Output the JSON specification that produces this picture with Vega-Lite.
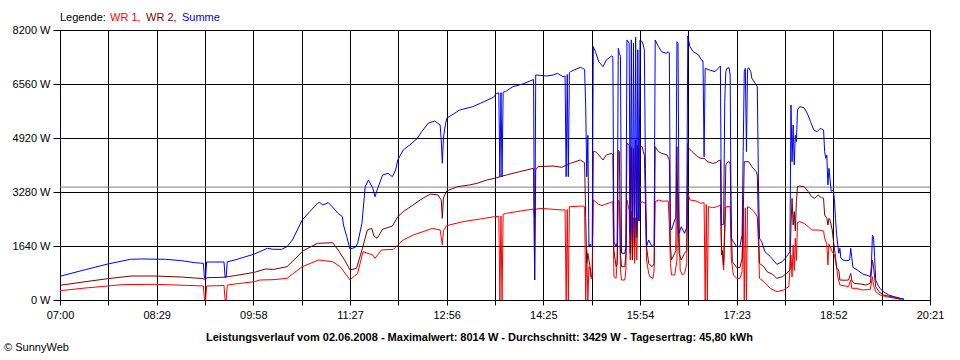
{
"$schema": "https://vega.github.io/schema/vega-lite/v6.json",
"width": 870, "height": 270,
"autosize": {"type": "none"},
"padding": {"left": 60, "top": 30, "right": 30, "bottom": 60},
"background": "white",
"config": {
  "font": "Liberation Sans",
  "view": {"stroke": "black", "strokeWidth": 1},
  "axis": {"gridColor": "black", "gridOpacity": 1, "gridWidth": 1, "domainColor": "black", "tickColor": "black", "labelColor": "black", "labelFontSize": 11, "labelFont": "Liberation Sans", "labelFlush": false, "labelOverlap": false, "tickSize": 6}
},
"title": {"text": "© SunnyWeb", "orient": "bottom", "anchor": "start", "frame": "bounds", "fontSize": 11, "fontWeight": "normal", "font": "Liberation Sans", "color": "black", "offset": 0, "dx": -8},
"layer": [
{
  "data": {"values": [{"w": 3429}]},
  "mark": {"type": "rule", "color": "#808080", "strokeWidth": 1},
  "encoding": {"y": {"field": "w", "type": "quantitative", "title": null}}
},
{
  "data": {"format": {"parse": {"t": "date:'%H:%M'"}}, "values": [
{"t":"07:00","s":"WR 1","w":283},{"t":"07:22","s":"WR 1","w":360},{"t":"07:44","s":"WR 1","w":425},{"t":"07:57","s":"WR 1","w":466},{"t":"08:27","s":"WR 1","w":476},{"t":"08:55","s":"WR 1","w":446},{"t":"09:12","s":"WR 1","w":425},{"t":"09:13","s":"WR 1","w":0},{"t":"09:14","s":"WR 1","w":0},{"t":"09:15","s":"WR 1","w":425},{"t":"09:31","s":"WR 1","w":440},{"t":"09:32","s":"WR 1","w":0},{"t":"09:33","s":"WR 1","w":0},{"t":"09:34","s":"WR 1","w":450},{"t":"09:41","s":"WR 1","w":486},{"t":"09:59","s":"WR 1","w":557},{"t":"10:04","s":"WR 1","w":607},{"t":"10:17","s":"WR 1","w":618},{"t":"10:29","s":"WR 1","w":659},{"t":"10:43","s":"WR 1","w":1012},{"t":"10:58","s":"WR 1","w":1215},{"t":"11:11","s":"WR 1","w":1164},{"t":"11:18","s":"WR 1","w":1012},{"t":"11:27","s":"WR 1","w":607},{"t":"11:34","s":"WR 1","w":810},{"t":"11:39","s":"WR 1","w":1468},{"t":"11:48","s":"WR 1","w":1367},{"t":"11:50","s":"WR 1","w":1265},{"t":"11:56","s":"WR 1","w":1519},{"t":"12:07","s":"WR 1","w":1539},{"t":"12:11","s":"WR 1","w":1671},{"t":"12:16","s":"WR 1","w":1822},{"t":"12:25","s":"WR 1","w":1974},{"t":"12:34","s":"WR 1","w":2075},{"t":"12:43","s":"WR 1","w":2177},{"t":"12:50","s":"WR 1","w":2126},{"t":"12:52","s":"WR 1","w":1671},{"t":"12:53","s":"WR 1","w":2100},{"t":"12:56","s":"WR 1","w":2257},{"t":"13:11","s":"WR 1","w":2379},{"t":"13:27","s":"WR 1","w":2460},{"t":"13:40","s":"WR 1","w":2531},{"t":"13:44","s":"WR 1","w":2540},{"t":"13:45","s":"WR 1","w":0},{"t":"13:46","s":"WR 1","w":2550},{"t":"13:47","s":"WR 1","w":0},{"t":"13:48","s":"WR 1","w":2600},{"t":"13:51","s":"WR 1","w":2632},{"t":"14:06","s":"WR 1","w":2713},{"t":"14:16","s":"WR 1","w":2764},{"t":"14:17","s":"WR 1","w":2500},{"t":"14:18","s":"WR 1","w":2753},{"t":"14:22","s":"WR 1","w":2784},{"t":"14:43","s":"WR 1","w":2733},{"t":"14:45","s":"WR 1","w":2740},{"t":"14:46","s":"WR 1","w":0},{"t":"14:47","s":"WR 1","w":2750},{"t":"14:48","s":"WR 1","w":0},{"t":"14:49","s":"WR 1","w":2834},{"t":"15:01","s":"WR 1","w":2855},{"t":"15:03","s":"WR 1","w":2834},{"t":"15:04","s":"WR 1","w":0},{"t":"15:05","s":"WR 1","w":1519},{"t":"15:06","s":"WR 1","w":0},{"t":"15:07","s":"WR 1","w":1012},{"t":"15:08","s":"WR 1","w":962},{"t":"15:09","s":"WR 1","w":658},{"t":"15:10","s":"WR 1","w":658},{"t":"15:11","s":"WR 1","w":3037},{"t":"15:13","s":"WR 1","w":2986},{"t":"15:16","s":"WR 1","w":2905},{"t":"15:19","s":"WR 1","w":2865},{"t":"15:22","s":"WR 1","w":2905},{"t":"15:27","s":"WR 1","w":2966},{"t":"15:29","s":"WR 1","w":2986},{"t":"15:30","s":"WR 1","w":709},{"t":"15:32","s":"WR 1","w":658},{"t":"15:33","s":"WR 1","w":1215},{"t":"15:34","s":"WR 1","w":3037},{"t":"15:35","s":"WR 1","w":3000},{"t":"15:36","s":"WR 1","w":911},{"t":"15:37","s":"WR 1","w":607},{"t":"15:40","s":"WR 1","w":607},{"t":"15:41","s":"WR 1","w":911},{"t":"15:42","s":"WR 1","w":3037},{"t":"15:44","s":"WR 1","w":2733},{"t":"15:45","s":"WR 1","w":1215},{"t":"15:46","s":"WR 1","w":2700},{"t":"15:47","s":"WR 1","w":1215},{"t":"15:48","s":"WR 1","w":2500},{"t":"15:49","s":"WR 1","w":1114},{"t":"15:50","s":"WR 1","w":2500},{"t":"15:51","s":"WR 1","w":1215},{"t":"15:52","s":"WR 1","w":2600},{"t":"15:53","s":"WR 1","w":2936},{"t":"15:56","s":"WR 1","w":2986},{"t":"15:59","s":"WR 1","w":2936},{"t":"16:00","s":"WR 1","w":1215},{"t":"16:02","s":"WR 1","w":810},{"t":"16:03","s":"WR 1","w":709},{"t":"16:06","s":"WR 1","w":658},{"t":"16:07","s":"WR 1","w":911},{"t":"16:08","s":"WR 1","w":2986},{"t":"16:11","s":"WR 1","w":3037},{"t":"16:15","s":"WR 1","w":3000},{"t":"16:20","s":"WR 1","w":3007},{"t":"16:21","s":"WR 1","w":2300},{"t":"16:22","s":"WR 1","w":1114},{"t":"16:23","s":"WR 1","w":760},{"t":"16:26","s":"WR 1","w":760},{"t":"16:28","s":"WR 1","w":1215},{"t":"16:29","s":"WR 1","w":3240},{"t":"16:30","s":"WR 1","w":2200},{"t":"16:31","s":"WR 1","w":911},{"t":"16:33","s":"WR 1","w":760},{"t":"16:35","s":"WR 1","w":810},{"t":"16:37","s":"WR 1","w":1100},{"t":"16:38","s":"WR 1","w":3240},{"t":"16:40","s":"WR 1","w":3037},{"t":"16:45","s":"WR 1","w":3017},{"t":"16:50","s":"WR 1","w":2936},{"t":"16:53","s":"WR 1","w":2956},{"t":"16:54","s":"WR 1","w":0},{"t":"16:55","s":"WR 1","w":2900},{"t":"16:56","s":"WR 1","w":0},{"t":"16:57","s":"WR 1","w":2834},{"t":"17:01","s":"WR 1","w":2804},{"t":"17:05","s":"WR 1","w":2834},{"t":"17:08","s":"WR 1","w":2885},{"t":"17:09","s":"WR 1","w":1671},{"t":"17:10","s":"WR 1","w":1266},{"t":"17:11","s":"WR 1","w":911},{"t":"17:12","s":"WR 1","w":2000},{"t":"17:13","s":"WR 1","w":2834},{"t":"17:17","s":"WR 1","w":2834},{"t":"17:18","s":"WR 1","w":1266},{"t":"17:20","s":"WR 1","w":760},{"t":"17:23","s":"WR 1","w":658},{"t":"17:26","s":"WR 1","w":658},{"t":"17:28","s":"WR 1","w":861},{"t":"17:29","s":"WR 1","w":2784},{"t":"17:30","s":"WR 1","w":0},{"t":"17:31","s":"WR 1","w":2800},{"t":"17:32","s":"WR 1","w":0},{"t":"17:33","s":"WR 1","w":2834},{"t":"17:36","s":"WR 1","w":2784},{"t":"17:39","s":"WR 1","w":2683},{"t":"17:42","s":"WR 1","w":2531},{"t":"17:43","s":"WR 1","w":1772},{"t":"17:44","s":"WR 1","w":658},{"t":"17:48","s":"WR 1","w":557},{"t":"17:54","s":"WR 1","w":354},{"t":"18:00","s":"WR 1","w":253},{"t":"18:06","s":"WR 1","w":304},{"t":"18:11","s":"WR 1","w":405},{"t":"18:13","s":"WR 1","w":1367},{"t":"18:14","s":"WR 1","w":700},{"t":"18:15","s":"WR 1","w":1671},{"t":"18:16","s":"WR 1","w":900},{"t":"18:17","s":"WR 1","w":1873},{"t":"18:18","s":"WR 1","w":1200},{"t":"18:19","s":"WR 1","w":2349},{"t":"18:21","s":"WR 1","w":2379},{"t":"18:25","s":"WR 1","w":2329},{"t":"18:29","s":"WR 1","w":2227},{"t":"18:32","s":"WR 1","w":2126},{"t":"18:38","s":"WR 1","w":2126},{"t":"18:43","s":"WR 1","w":2096},{"t":"18:44","s":"WR 1","w":1873},{"t":"18:46","s":"WR 1","w":1700},{"t":"18:47","s":"WR 1","w":1063},{"t":"18:48","s":"WR 1","w":1700},{"t":"18:49","s":"WR 1","w":1620},{"t":"18:51","s":"WR 1","w":1468},{"t":"18:53","s":"WR 1","w":1367},{"t":"18:55","s":"WR 1","w":1012},{"t":"18:56","s":"WR 1","w":709},{"t":"18:58","s":"WR 1","w":456},{"t":"19:03","s":"WR 1","w":425},{"t":"19:06","s":"WR 1","w":405},{"t":"19:08","s":"WR 1","w":607},{"t":"19:09","s":"WR 1","w":355},{"t":"19:13","s":"WR 1","w":355},{"t":"19:19","s":"WR 1","w":304},{"t":"19:26","s":"WR 1","w":324},{"t":"19:27","s":"WR 1","w":506},{"t":"19:28","s":"WR 1","w":709},{"t":"19:29","s":"WR 1","w":450},{"t":"19:31","s":"WR 1","w":253},{"t":"19:35","s":"WR 1","w":152},{"t":"19:41","s":"WR 1","w":101},{"t":"19:49","s":"WR 1","w":51},{"t":"19:54","s":"WR 1","w":20},
{"t":"07:00","s":"WR 2","w":446},{"t":"07:22","s":"WR 2","w":550},{"t":"07:44","s":"WR 2","w":648},{"t":"08:06","s":"WR 2","w":729},{"t":"08:27","s":"WR 2","w":729},{"t":"08:52","s":"WR 2","w":698},{"t":"09:12","s":"WR 2","w":648},{"t":"09:13","s":"WR 2","w":610},{"t":"09:14","s":"WR 2","w":610},{"t":"09:15","s":"WR 2","w":678},{"t":"09:31","s":"WR 2","w":690},{"t":"09:33","s":"WR 2","w":700},{"t":"09:41","s":"WR 2","w":739},{"t":"09:59","s":"WR 2","w":840},{"t":"10:09","s":"WR 2","w":941},{"t":"10:17","s":"WR 2","w":931},{"t":"10:29","s":"WR 2","w":1012},{"t":"10:44","s":"WR 2","w":1498},{"t":"10:57","s":"WR 2","w":1721},{"t":"11:11","s":"WR 2","w":1741},{"t":"11:16","s":"WR 2","w":1519},{"t":"11:22","s":"WR 2","w":1215},{"t":"11:27","s":"WR 2","w":911},{"t":"11:33","s":"WR 2","w":962},{"t":"11:38","s":"WR 2","w":1519},{"t":"11:43","s":"WR 2","w":2126},{"t":"11:47","s":"WR 2","w":2177},{"t":"11:49","s":"WR 2","w":1944},{"t":"11:52","s":"WR 2","w":1873},{"t":"11:57","s":"WR 2","w":2146},{"t":"12:06","s":"WR 2","w":2247},{"t":"12:11","s":"WR 2","w":2531},{"t":"12:16","s":"WR 2","w":2683},{"t":"12:25","s":"WR 2","w":2885},{"t":"12:34","s":"WR 2","w":3088},{"t":"12:41","s":"WR 2","w":3219},{"t":"12:48","s":"WR 2","w":3189},{"t":"12:51","s":"WR 2","w":3037},{"t":"12:52","s":"WR 2","w":2481},{"t":"12:53","s":"WR 2","w":3100},{"t":"12:56","s":"WR 2","w":3310},{"t":"13:06","s":"WR 2","w":3442},{"t":"13:17","s":"WR 2","w":3493},{"t":"13:24","s":"WR 2","w":3544},{"t":"13:33","s":"WR 2","w":3644},{"t":"13:40","s":"WR 2","w":3696},{"t":"13:51","s":"WR 2","w":3796},{"t":"14:03","s":"WR 2","w":3897},{"t":"14:16","s":"WR 2","w":3999},{"t":"14:17","s":"WR 2","w":607},{"t":"14:18","s":"WR 2","w":3950},{"t":"14:20","s":"WR 2","w":4049},{"t":"14:34","s":"WR 2","w":4069},{"t":"14:42","s":"WR 2","w":4029},{"t":"14:50","s":"WR 2","w":4151},{"t":"14:59","s":"WR 2","w":4252},{"t":"15:03","s":"WR 2","w":4170},{"t":"15:04","s":"WR 2","w":2500},{"t":"15:05","s":"WR 2","w":1114},{"t":"15:06","s":"WR 2","w":1418},{"t":"15:08","s":"WR 2","w":1012},{"t":"15:09","s":"WR 2","w":709},{"t":"15:10","s":"WR 2","w":709},{"t":"15:11","s":"WR 2","w":4505},{"t":"15:13","s":"WR 2","w":4505},{"t":"15:16","s":"WR 2","w":4404},{"t":"15:20","s":"WR 2","w":4252},{"t":"15:23","s":"WR 2","w":4404},{"t":"15:28","s":"WR 2","w":4455},{"t":"15:29","s":"WR 2","w":4400},{"t":"15:30","s":"WR 2","w":1500},{"t":"15:32","s":"WR 2","w":1012},{"t":"15:33","s":"WR 2","w":1100},{"t":"15:34","s":"WR 2","w":4556},{"t":"15:35","s":"WR 2","w":4500},{"t":"15:36","s":"WR 2","w":1418},{"t":"15:37","s":"WR 2","w":1012},{"t":"15:40","s":"WR 2","w":1012},{"t":"15:41","s":"WR 2","w":1418},{"t":"15:42","s":"WR 2","w":4759},{"t":"15:44","s":"WR 2","w":4700},{"t":"15:45","s":"WR 2","w":1418},{"t":"15:46","s":"WR 2","w":4650},{"t":"15:47","s":"WR 2","w":1215},{"t":"15:48","s":"WR 2","w":4600},{"t":"15:49","s":"WR 2","w":1620},{"t":"15:50","s":"WR 2","w":4859},{"t":"15:51","s":"WR 2","w":1900},{"t":"15:52","s":"WR 2","w":4700},{"t":"15:53","s":"WR 2","w":2400},{"t":"15:54","s":"WR 2","w":4657},{"t":"15:56","s":"WR 2","w":4657},{"t":"15:57","s":"WR 2","w":4505},{"t":"15:58","s":"WR 2","w":4400},{"t":"15:59","s":"WR 2","w":3000},{"t":"16:00","s":"WR 2","w":1620},{"t":"16:02","s":"WR 2","w":1114},{"t":"16:05","s":"WR 2","w":1012},{"t":"16:07","s":"WR 2","w":1100},{"t":"16:08","s":"WR 2","w":4657},{"t":"16:11","s":"WR 2","w":4505},{"t":"16:14","s":"WR 2","w":4455},{"t":"16:19","s":"WR 2","w":4404},{"t":"16:21","s":"WR 2","w":4252},{"t":"16:22","s":"WR 2","w":1620},{"t":"16:23","s":"WR 2","w":1215},{"t":"16:26","s":"WR 2","w":1418},{"t":"16:27","s":"WR 2","w":1500},{"t":"16:28","s":"WR 2","w":4657},{"t":"16:29","s":"WR 2","w":2430},{"t":"16:30","s":"WR 2","w":1418},{"t":"16:32","s":"WR 2","w":1215},{"t":"16:35","s":"WR 2","w":1418},{"t":"16:37","s":"WR 2","w":1500},{"t":"16:38","s":"WR 2","w":4759},{"t":"16:39","s":"WR 2","w":4607},{"t":"16:42","s":"WR 2","w":4505},{"t":"16:47","s":"WR 2","w":4353},{"t":"16:50","s":"WR 2","w":4300},{"t":"16:53","s":"WR 2","w":4303},{"t":"16:56","s":"WR 2","w":4201},{"t":"17:01","s":"WR 2","w":4151},{"t":"17:04","s":"WR 2","w":4171},{"t":"17:06","s":"WR 2","w":4221},{"t":"17:08","s":"WR 2","w":4252},{"t":"17:09","s":"WR 2","w":1367},{"t":"17:10","s":"WR 2","w":1500},{"t":"17:11","s":"WR 2","w":1063},{"t":"17:12","s":"WR 2","w":2278},{"t":"17:13","s":"WR 2","w":4100},{"t":"17:15","s":"WR 2","w":4201},{"t":"17:17","s":"WR 2","w":4180},{"t":"17:18","s":"WR 2","w":2278},{"t":"17:19","s":"WR 2","w":1164},{"t":"17:23","s":"WR 2","w":982},{"t":"17:26","s":"WR 2","w":982},{"t":"17:28","s":"WR 2","w":1266},{"t":"17:29","s":"WR 2","w":2500},{"t":"17:30","s":"WR 2","w":4201},{"t":"17:34","s":"WR 2","w":4201},{"t":"17:37","s":"WR 2","w":4049},{"t":"17:41","s":"WR 2","w":3897},{"t":"17:42","s":"WR 2","w":3796},{"t":"17:43","s":"WR 2","w":2278},{"t":"17:44","s":"WR 2","w":1114},{"t":"17:48","s":"WR 2","w":1012},{"t":"17:51","s":"WR 2","w":861},{"t":"17:56","s":"WR 2","w":780},{"t":"18:00","s":"WR 2","w":658},{"t":"18:05","s":"WR 2","w":709},{"t":"18:09","s":"WR 2","w":810},{"t":"18:12","s":"WR 2","w":911},{"t":"18:13","s":"WR 2","w":2278},{"t":"18:14","s":"WR 2","w":3088},{"t":"18:15","s":"WR 2","w":2278},{"t":"18:16","s":"WR 2","w":2683},{"t":"18:17","s":"WR 2","w":2100},{"t":"18:18","s":"WR 2","w":2986},{"t":"18:19","s":"WR 2","w":3442},{"t":"18:21","s":"WR 2","w":3462},{"t":"18:25","s":"WR 2","w":3442},{"t":"18:29","s":"WR 2","w":3290},{"t":"18:32","s":"WR 2","w":3138},{"t":"18:35","s":"WR 2","w":3088},{"t":"18:38","s":"WR 2","w":3189},{"t":"18:41","s":"WR 2","w":3107},{"t":"18:43","s":"WR 2","w":3088},{"t":"18:44","s":"WR 2","w":2581},{"t":"18:46","s":"WR 2","w":2481},{"t":"18:47","s":"WR 2","w":2278},{"t":"18:48","s":"WR 2","w":2481},{"t":"18:49","s":"WR 2","w":2430},{"t":"18:51","s":"WR 2","w":2126},{"t":"18:52","s":"WR 2","w":1822},{"t":"18:54","s":"WR 2","w":1316},{"t":"18:55","s":"WR 2","w":962},{"t":"18:57","s":"WR 2","w":911},{"t":"18:58","s":"WR 2","w":607},{"t":"19:03","s":"WR 2","w":600},{"t":"19:06","s":"WR 2","w":607},{"t":"19:08","s":"WR 2","w":810},{"t":"19:09","s":"WR 2","w":607},{"t":"19:11","s":"WR 2","w":506},{"t":"19:17","s":"WR 2","w":486},{"t":"19:22","s":"WR 2","w":456},{"t":"19:26","s":"WR 2","w":506},{"t":"19:27","s":"WR 2","w":810},{"t":"19:28","s":"WR 2","w":1215},{"t":"19:29","s":"WR 2","w":1000},{"t":"19:31","s":"WR 2","w":405},{"t":"19:34","s":"WR 2","w":253},{"t":"19:38","s":"WR 2","w":152},{"t":"19:48","s":"WR 2","w":81},{"t":"19:54","s":"WR 2","w":30},{"t":"19:57","s":"WR 2","w":20},
{"t":"07:00","s":"Summe","w":720},{"t":"07:22","s":"Summe","w":910},{"t":"07:44","s":"Summe","w":1093},{"t":"08:05","s":"Summe","w":1236},{"t":"08:15","s":"Summe","w":1245},{"t":"08:37","s":"Summe","w":1236},{"t":"08:52","s":"Summe","w":1194},{"t":"09:04","s":"Summe","w":1134},{"t":"09:12","s":"Summe","w":1114},{"t":"09:13","s":"Summe","w":659},{"t":"09:14","s":"Summe","w":659},{"t":"09:15","s":"Summe","w":1154},{"t":"09:31","s":"Summe","w":1154},{"t":"09:32","s":"Summe","w":689},{"t":"09:33","s":"Summe","w":689},{"t":"09:34","s":"Summe","w":1160},{"t":"09:41","s":"Summe","w":1215},{"t":"09:59","s":"Summe","w":1397},{"t":"10:11","s":"Summe","w":1570},{"t":"10:16","s":"Summe","w":1540},{"t":"10:24","s":"Summe","w":1539},{"t":"10:29","s":"Summe","w":1620},{"t":"10:34","s":"Summe","w":1822},{"t":"10:43","s":"Summe","w":2430},{"t":"10:50","s":"Summe","w":2683},{"t":"10:57","s":"Summe","w":2936},{"t":"10:59","s":"Summe","w":2966},{"t":"11:02","s":"Summe","w":2885},{"t":"11:07","s":"Summe","w":2956},{"t":"11:10","s":"Summe","w":2855},{"t":"11:16","s":"Summe","w":2632},{"t":"11:20","s":"Summe","w":2531},{"t":"11:21","s":"Summe","w":2278},{"t":"11:24","s":"Summe","w":1923},{"t":"11:27","s":"Summe","w":1549},{"t":"11:32","s":"Summe","w":1600},{"t":"11:34","s":"Summe","w":1721},{"t":"11:38","s":"Summe","w":2328},{"t":"11:41","s":"Summe","w":3442},{"t":"11:44","s":"Summe","w":3644},{"t":"11:48","s":"Summe","w":3392},{"t":"11:50","s":"Summe","w":3138},{"t":"11:52","s":"Summe","w":3341},{"t":"11:57","s":"Summe","w":3796},{"t":"12:02","s":"Summe","w":3848},{"t":"12:06","s":"Summe","w":3745},{"t":"12:09","s":"Summe","w":3948},{"t":"12:11","s":"Summe","w":4252},{"t":"12:16","s":"Summe","w":4556},{"t":"12:22","s":"Summe","w":4708},{"t":"12:29","s":"Summe","w":4910},{"t":"12:33","s":"Summe","w":5112},{"t":"12:39","s":"Summe","w":5366},{"t":"12:45","s":"Summe","w":5436},{"t":"12:50","s":"Summe","w":5315},{"t":"12:51","s":"Summe","w":4859},{"t":"12:52","s":"Summe","w":4151},{"t":"12:53","s":"Summe","w":4900},{"t":"12:54","s":"Summe","w":5163},{"t":"12:56","s":"Summe","w":5517},{"t":"13:08","s":"Summe","w":5770},{"t":"13:20","s":"Summe","w":5871},{"t":"13:27","s":"Summe","w":5973},{"t":"13:39","s":"Summe","w":6155},{"t":"13:42","s":"Summe","w":6277},{"t":"13:44","s":"Summe","w":6290},{"t":"13:45","s":"Summe","w":3745},{"t":"13:46","s":"Summe","w":6300},{"t":"13:47","s":"Summe","w":3745},{"t":"13:48","s":"Summe","w":6310},{"t":"13:50","s":"Summe","w":6327},{"t":"13:57","s":"Summe","w":6479},{"t":"14:06","s":"Summe","w":6560},{"t":"14:15","s":"Summe","w":6682},{"t":"14:16","s":"Summe","w":6700},{"t":"14:17","s":"Summe","w":607},{"t":"14:18","s":"Summe","w":6834},{"t":"14:28","s":"Summe","w":6803},{"t":"14:34","s":"Summe","w":6834},{"t":"14:38","s":"Summe","w":6884},{"t":"14:43","s":"Summe","w":6783},{"t":"14:45","s":"Summe","w":6800},{"t":"14:46","s":"Summe","w":3745},{"t":"14:47","s":"Summe","w":6850},{"t":"14:48","s":"Summe","w":3745},{"t":"14:49","s":"Summe","w":6900},{"t":"14:50","s":"Summe","w":6935},{"t":"14:59","s":"Summe","w":7067},{"t":"15:01","s":"Summe","w":7037},{"t":"15:03","s":"Summe","w":7006},{"t":"15:04","s":"Summe","w":5870},{"t":"15:05","s":"Summe","w":3745},{"t":"15:06","s":"Summe","w":5000},{"t":"15:07","s":"Summe","w":1620},{"t":"15:08","s":"Summe","w":1700},{"t":"15:09","s":"Summe","w":1620},{"t":"15:10","s":"Summe","w":1650},{"t":"15:11","s":"Summe","w":7694},{"t":"15:13","s":"Summe","w":7541},{"t":"15:16","s":"Summe","w":7238},{"t":"15:20","s":"Summe","w":7087},{"t":"15:23","s":"Summe","w":7290},{"t":"15:28","s":"Summe","w":7410},{"t":"15:29","s":"Summe","w":7390},{"t":"15:30","s":"Summe","w":1772},{"t":"15:32","s":"Summe","w":1620},{"t":"15:33","s":"Summe","w":1750},{"t":"15:34","s":"Summe","w":7644},{"t":"15:35","s":"Summe","w":7492},{"t":"15:36","s":"Summe","w":7400},{"t":"15:37","s":"Summe","w":1418},{"t":"15:40","s":"Summe","w":1418},{"t":"15:41","s":"Summe","w":1600},{"t":"15:42","s":"Summe","w":7897},{"t":"15:44","s":"Summe","w":7796},{"t":"15:45","s":"Summe","w":2024},{"t":"15:46","s":"Summe","w":7900},{"t":"15:47","s":"Summe","w":1822},{"t":"15:48","s":"Summe","w":7800},{"t":"15:49","s":"Summe","w":2227},{"t":"15:50","s":"Summe","w":7978},{"t":"15:51","s":"Summe","w":2100},{"t":"15:52","s":"Summe","w":7600},{"t":"15:53","s":"Summe","w":2400},{"t":"15:54","s":"Summe","w":7897},{"t":"15:56","s":"Summe","w":7847},{"t":"15:57","s":"Summe","w":7745},{"t":"15:58","s":"Summe","w":7600},{"t":"15:59","s":"Summe","w":4000},{"t":"16:00","s":"Summe","w":1620},{"t":"16:02","s":"Summe","w":1822},{"t":"16:05","s":"Summe","w":1620},{"t":"16:07","s":"Summe","w":1700},{"t":"16:08","s":"Summe","w":7897},{"t":"16:11","s":"Summe","w":7694},{"t":"16:14","s":"Summe","w":7541},{"t":"16:18","s":"Summe","w":7492},{"t":"16:20","s":"Summe","w":7541},{"t":"16:21","s":"Summe","w":7500},{"t":"16:22","s":"Summe","w":2227},{"t":"16:23","s":"Summe","w":2126},{"t":"16:26","s":"Summe","w":2430},{"t":"16:27","s":"Summe","w":2500},{"t":"16:28","s":"Summe","w":7846},{"t":"16:29","s":"Summe","w":7800},{"t":"16:30","s":"Summe","w":2024},{"t":"16:32","s":"Summe","w":2227},{"t":"16:35","s":"Summe","w":2024},{"t":"16:37","s":"Summe","w":2200},{"t":"16:38","s":"Summe","w":8014},{"t":"16:40","s":"Summe","w":7694},{"t":"16:43","s":"Summe","w":7541},{"t":"16:48","s":"Summe","w":7441},{"t":"16:50","s":"Summe","w":7310},{"t":"16:52","s":"Summe","w":7259},{"t":"16:53","s":"Summe","w":4353},{"t":"16:54","s":"Summe","w":7036},{"t":"16:58","s":"Summe","w":6986},{"t":"17:03","s":"Summe","w":6935},{"t":"17:06","s":"Summe","w":7036},{"t":"17:08","s":"Summe","w":7107},{"t":"17:09","s":"Summe","w":2278},{"t":"17:11","s":"Summe","w":2300},{"t":"17:12","s":"Summe","w":6000},{"t":"17:13","s":"Summe","w":6935},{"t":"17:14","s":"Summe","w":7036},{"t":"17:16","s":"Summe","w":7057},{"t":"17:17","s":"Summe","w":6833},{"t":"17:18","s":"Summe","w":1873},{"t":"17:20","s":"Summe","w":1772},{"t":"17:23","s":"Summe","w":1620},{"t":"17:26","s":"Summe","w":1620},{"t":"17:28","s":"Summe","w":1974},{"t":"17:29","s":"Summe","w":4505},{"t":"17:30","s":"Summe","w":6935},{"t":"17:31","s":"Summe","w":7036},{"t":"17:32","s":"Summe","w":4505},{"t":"17:33","s":"Summe","w":7000},{"t":"17:34","s":"Summe","w":7057},{"t":"17:36","s":"Summe","w":6935},{"t":"17:37","s":"Summe","w":6733},{"t":"17:41","s":"Summe","w":6530},{"t":"17:42","s":"Summe","w":6480},{"t":"17:43","s":"Summe","w":3696},{"t":"17:44","s":"Summe","w":1873},{"t":"17:46","s":"Summe","w":1772},{"t":"17:49","s":"Summe","w":1468},{"t":"17:54","s":"Summe","w":1316},{"t":"18:00","s":"Summe","w":1083},{"t":"18:05","s":"Summe","w":1164},{"t":"18:09","s":"Summe","w":1316},{"t":"18:12","s":"Summe","w":1468},{"t":"18:13","s":"Summe","w":5922},{"t":"18:14","s":"Summe","w":4200},{"t":"18:15","s":"Summe","w":5315},{"t":"18:16","s":"Summe","w":4100},{"t":"18:17","s":"Summe","w":5000},{"t":"18:18","s":"Summe","w":4809},{"t":"18:19","s":"Summe","w":5770},{"t":"18:21","s":"Summe","w":5871},{"t":"18:25","s":"Summe","w":5841},{"t":"18:28","s":"Summe","w":5670},{"t":"18:31","s":"Summe","w":5416},{"t":"18:34","s":"Summe","w":5163},{"t":"18:37","s":"Summe","w":5112},{"t":"18:40","s":"Summe","w":5214},{"t":"18:43","s":"Summe","w":5163},{"t":"18:44","s":"Summe","w":4505},{"t":"18:45","s":"Summe","w":4303},{"t":"18:46","s":"Summe","w":4400},{"t":"18:47","s":"Summe","w":3493},{"t":"18:48","s":"Summe","w":4000},{"t":"18:50","s":"Summe","w":3300},{"t":"18:52","s":"Summe","w":3341},{"t":"18:53","s":"Summe","w":3037},{"t":"18:54","s":"Summe","w":2481},{"t":"18:55","s":"Summe","w":2000},{"t":"18:56","s":"Summe","w":1700},{"t":"18:57","s":"Summe","w":1418},{"t":"18:58","s":"Summe","w":1570},{"t":"18:59","s":"Summe","w":1266},{"t":"19:01","s":"Summe","w":1215},{"t":"19:04","s":"Summe","w":1194},{"t":"19:07","s":"Summe","w":1215},{"t":"19:08","s":"Summe","w":1570},{"t":"19:09","s":"Summe","w":1300},{"t":"19:10","s":"Summe","w":993},{"t":"19:14","s":"Summe","w":911},{"t":"19:19","s":"Summe","w":790},{"t":"19:24","s":"Summe","w":739},{"t":"19:26","s":"Summe","w":709},{"t":"19:27","s":"Summe","w":1012},{"t":"19:28","s":"Summe","w":1974},{"t":"19:29","s":"Summe","w":1900},{"t":"19:30","s":"Summe","w":1316},{"t":"19:31","s":"Summe","w":607},{"t":"19:33","s":"Summe","w":456},{"t":"19:35","s":"Summe","w":355},{"t":"19:38","s":"Summe","w":253},{"t":"19:43","s":"Summe","w":152},{"t":"19:48","s":"Summe","w":101},{"t":"19:54","s":"Summe","w":51},{"t":"19:57","s":"Summe","w":30}
  ]},
  "mark": {"type": "line", "strokeWidth": 1},
  "encoding": {
    "x": {"field": "t", "type": "temporal",
      "title": "Leistungsverlauf vom 02.06.2008 - Maximalwert: 8014 W - Durchschnitt: 3429 W - Tagesertrag: 45,80 kWh",
      "scale": {"domain": [{"year":1900,"month":1,"date":1,"hours":7,"minutes":0},{"year":1900,"month":1,"date":1,"hours":20,"minutes":21}]},
      "axis": {
        "values": [
          {"year":1900,"month":1,"date":1,"hours":7,"minutes":0},
          {"year":1900,"month":1,"date":1,"hours":7,"minutes":44,"seconds":30},
          {"year":1900,"month":1,"date":1,"hours":8,"minutes":29},
          {"year":1900,"month":1,"date":1,"hours":9,"minutes":13,"seconds":30},
          {"year":1900,"month":1,"date":1,"hours":9,"minutes":58},
          {"year":1900,"month":1,"date":1,"hours":10,"minutes":42,"seconds":30},
          {"year":1900,"month":1,"date":1,"hours":11,"minutes":27},
          {"year":1900,"month":1,"date":1,"hours":12,"minutes":11,"seconds":30},
          {"year":1900,"month":1,"date":1,"hours":12,"minutes":56},
          {"year":1900,"month":1,"date":1,"hours":13,"minutes":40,"seconds":30},
          {"year":1900,"month":1,"date":1,"hours":14,"minutes":25},
          {"year":1900,"month":1,"date":1,"hours":15,"minutes":9,"seconds":30},
          {"year":1900,"month":1,"date":1,"hours":15,"minutes":54},
          {"year":1900,"month":1,"date":1,"hours":16,"minutes":38,"seconds":30},
          {"year":1900,"month":1,"date":1,"hours":17,"minutes":23},
          {"year":1900,"month":1,"date":1,"hours":18,"minutes":7,"seconds":30},
          {"year":1900,"month":1,"date":1,"hours":18,"minutes":52},
          {"year":1900,"month":1,"date":1,"hours":19,"minutes":36,"seconds":30},
          {"year":1900,"month":1,"date":1,"hours":20,"minutes":21}
        ],
        "labelExpr": "seconds(datum.value) == 30 ? '' : timeFormat(datum.value, '%H:%M')",
        "grid": true, "labelPadding": 4, "tickSize": 5,
        "titleFontWeight": "bold", "titleFontSize": 11, "titleColor": "black",
        "titleX": 419, "titleY": 37, "titleAlign": "center", "titleBaseline": "middle"
      }
    },
    "y": {"field": "w", "type": "quantitative", "title": null,
      "scale": {"domain": [0, 8200], "nice": false, "zero": true},
      "axis": {"values": [0, 1640, 3280, 4920, 6560, 8200], "labelExpr": "datum.value + ' W'", "grid": true, "labelPadding": 3, "tickSize": 7}
    },
    "color": {"field": "s", "type": "nominal",
      "scale": {"domain": ["WR 1", "WR 2", "Summe"], "range": ["#ff0000", "#800000", "#0000ff"]},
      "legend": {"title": "Legende:", "orient": "none", "legendX": 0, "legendY": -18, "direction": "horizontal",
        "titleOrient": "left", "titleFontWeight": "normal", "titleFontSize": 11, "titleColor": "black", "titlePadding": 3, "titleBaseline": "top",
        "labelFontSize": 11, "labelFont": "Liberation Sans", "symbolSize": 0.01, "symbolOpacity": 0, "symbolStrokeWidth": 0, "labelOffset": -10, "columnPadding": 4, "padding": 0,
        "labelExpr": "datum.label == 'Summe' ? datum.label : datum.label + ','",
        "encode": {"labels": {"update": {"fill": {"scale": "color", "field": "value"}}}, "title": {"update": {"dy": {"value": -5}}}}}
    }
  }
}
]
}
